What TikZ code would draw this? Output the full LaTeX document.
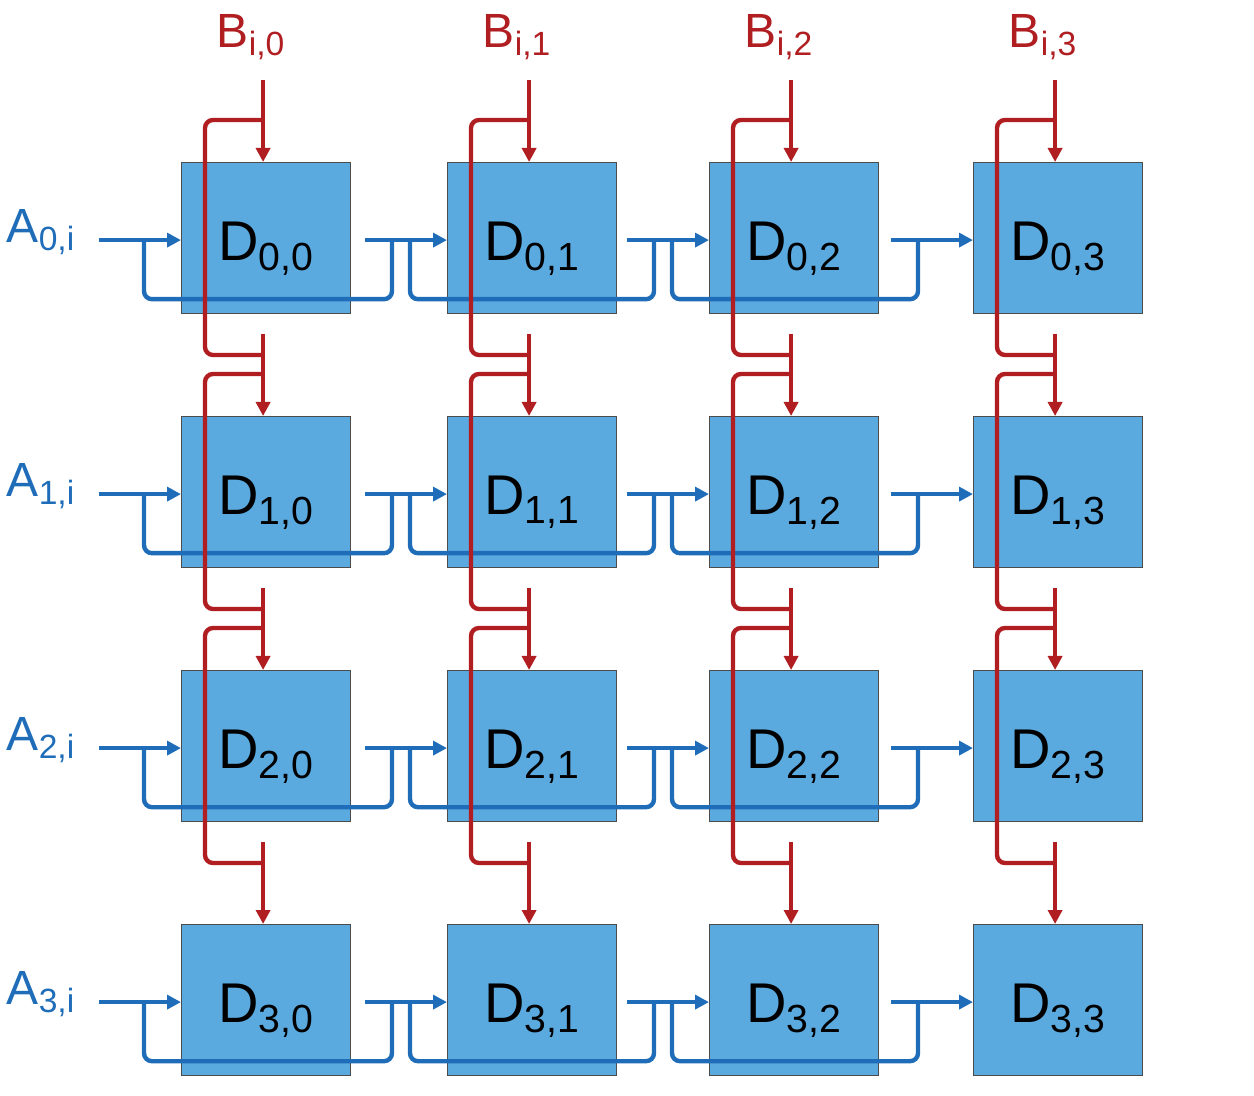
\documentclass[tikz,border=0pt]{standalone}
\usepackage{fontspec}
\setmainfont{Liberation Sans}
\usepackage{tikz}
\usetikzlibrary{arrows.meta,calc}
\definecolor{cellblue}{HTML}{5AAAE0}
\definecolor{wireblue}{HTML}{1F6DB8}
\definecolor{wirered}{HTML}{B01E22}
\tikzset{
  cell/.style={draw=black!70, line width=0.6pt, fill=cellblue, minimum width=84.5pt, minimum height=75.5pt, inner sep=0pt},
  awire/.style={wireblue, line width=2.2pt, rounded corners=4pt},
  bwire/.style={wirered, line width=2.2pt, rounded corners=4pt},
  tip/.style={-{Triangle[length=7pt,width=7pt]}}
}
\begin{document}
\begin{tikzpicture}[x=0.5pt, y=-0.5pt]
\useasboundingbox (0,0) rectangle (1254,1096);
% cells
\foreach \r/\ty in {0/162,1/416,2/670,3/924} {
  \foreach \c/\lx in {0/181,1/447,2/709,3/973} {
    \node[cell, anchor=north west] (d-\r-\c) at (\lx,\ty) {};
    \node[font=\fontsize{28}{30}\selectfont, anchor=base] at ($(d-\r-\c.center)+(0,22)$) {D\textsubscript{\r,\c}};
  }
}
% row inputs A
\foreach \r in {0,1,2,3} {
  \node[wireblue, font=\fontsize{24}{26}\selectfont] (a-\r) at ($(d-\r-0.west)+(-140,-6)$) {A\textsubscript{\r,i}};
  \foreach \c in {0,1,2,3} {
    \coordinate (ain-\r-\c) at ($(d-\r-\c.west)+(-82,2)$);
    \draw[awire, tip] (ain-\r-\c) -- ($(d-\r-\c.west)+(0,2)$);
  }
  % pass-through wires
  \foreach \c/\n in {0/1,1/2,2/3} {
    \draw[awire] ($(d-\r-\c.west)+(-37,2)$) -- ($(d-\r-\c.south west)+(-37,-15)$)
      -- ($(d-\r-\n.south west)+(-55,-15)$) -- ($(d-\r-\n.west)+(-55,2)$);
  }
}
% column inputs B
\foreach \c in {0,1,2,3} {
  \node[wirered, font=\fontsize{24}{26}\selectfont] (b-\c) at ($(d-0-\c.north)+(-15,-125)$) {B\textsubscript{i,\c}};
  \foreach \r in {0,1,2,3} {
    \draw[bwire, tip] ($(d-\r-\c.north)+(-3,-82)$) -- ($(d-\r-\c.north)+(-3,0)$);
  }
  \foreach \r/\n in {0/1,1/2,2/3} {
    \draw[bwire] ($(d-\r-\c.north)+(-3,-42)$) -- ($(d-\r-\c.north west)+(24,-42)$)
      -- ($(d-\n-\c.north west)+(24,-61)$) -- ($(d-\n-\c.north)+(-3,-61)$);
  }
}
\end{tikzpicture}
\end{document}
